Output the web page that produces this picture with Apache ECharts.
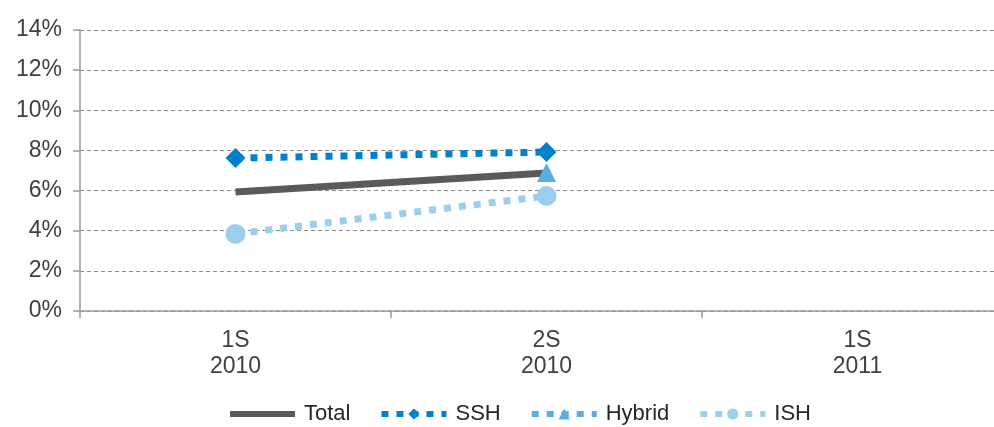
<!DOCTYPE html>
<html><head><meta charset="utf-8">
<script src="https://cdn.jsdelivr.net/npm/echarts@6/dist/echarts.min.js"></script>
<style>html,body{margin:0;padding:0;background:#fff;overflow:hidden;width:994px;height:427px}#c{width:1013px;height:427px}</style>
</head><body><div id="c"></div>
<script>
const categories = ["1S\n2010", "2S\n2010", "1S\n2011"];
const totalValues = [5.93, 6.88, null];
const sshValues = [7.62, 7.92, null];
const hybridValues = [null, 6.9, null];
const ishValues = [3.84, 5.73, null];
const yTicks = [0, 2, 4, 6, 8, 10, 12, 14];

const FONT = '"Liberation Sans", Arial, sans-serif';
const chart = echarts.init(document.getElementById('c'), null, {renderer: 'canvas'});
const legendItem = (name, w, hideSymbol) => ({
  name, lineStyle: {width: w},
  itemStyle: hideSymbol ? {opacity: 0} : undefined
});
chart.setOption({
  animation: false,
  grid: {left: 80, top: 30, bottom: 116, right: 0, containLabel: false},
  legend: {
    top: 403, left: 227, padding: 0, itemGap: 28, itemWidth: 65, itemHeight: 14,
    textStyle: {fontFamily: FONT, fontSize: 22, color: '#262626', padding: [0, 0, 0, 4]},
    data: [legendItem('Total', 6, true), legendItem('SSH', 6), legendItem('Hybrid', 6), legendItem('ISH', 6)]
  },
  xAxis: {
    type: 'category', data: categories, boundaryGap: true,
    axisLine: {lineStyle: {color: '#999', width: 1.5}},
    axisTick: {show: true, length: 7, lineStyle: {color: '#999', width: 1.5}},
    axisLabel: {fontFamily: FONT, fontSize: 23, color: '#404040', lineHeight: 26, margin: 17}
  },
  yAxis: [{
    type: 'value', min: 0, max: 14, interval: 2,
    axisLine: {show: false},
    axisTick: {show: true, length: 7, lineStyle: {color: '#999', width: 1.5}},
    axisLabel: {fontFamily: FONT, fontSize: 23, color: '#404040', margin: 18,
      formatter: v => yTicks.includes(v) ? v + '%' : ''},
    splitLine: {show: true, lineStyle: {color: '#8c8c8c', type: [4, 3], width: 1}}
  }, {
    type: 'value', min: 0, max: 15, position: 'left',
    axisLine: {show: true, lineStyle: {color: '#999', width: 1.5}},
    axisTick: {show: false}, axisLabel: {show: false}, splitLine: {show: false}
  }],
  series: [
    {name: 'Total', type: 'line', data: totalValues, symbol: 'none',
     lineStyle: {color: '#5a5a5a', width: 7, cap: 'butt'}, itemStyle: {color: '#5a5a5a'}},
    {name: 'SSH', type: 'line', data: sshValues, symbol: 'diamond', symbolSize: 20,
     lineStyle: {color: '#0082ca', width: 7, type: [7, 8], cap: 'butt'}, itemStyle: {color: '#0082ca'}},
    {name: 'Hybrid', type: 'line', data: hybridValues, symbol: 'triangle', symbolSize: 19,
     lineStyle: {color: '#5aaee0', width: 7, type: [7, 8], cap: 'butt'}, itemStyle: {color: '#5aaee0'}},
    {name: 'ISH', type: 'line', data: ishValues, symbol: 'circle', symbolSize: 20,
     lineStyle: {color: '#9bcfee', width: 7, type: [7, 8], cap: 'butt'}, itemStyle: {color: '#9bcfee'}}
  ]
});
</script></body></html>
